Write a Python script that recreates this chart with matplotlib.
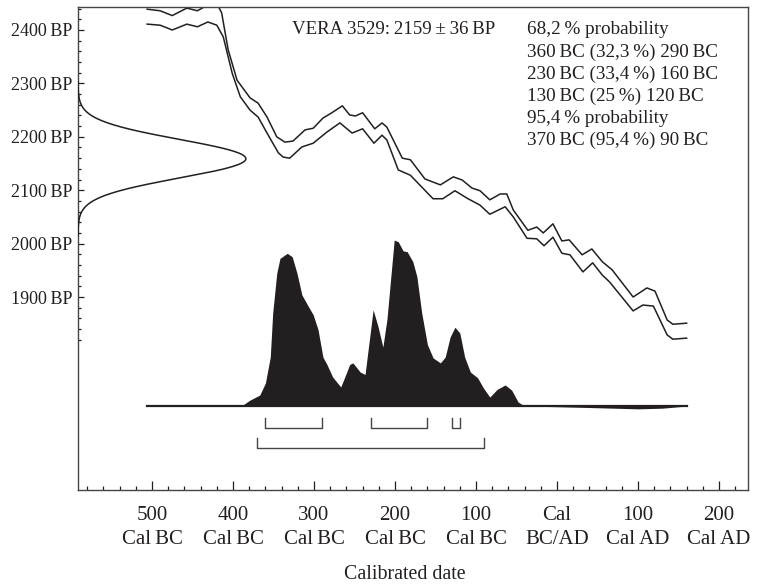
import numpy as np
import matplotlib
matplotlib.use("Agg")
import matplotlib.pyplot as plt
from matplotlib.ticker import FixedLocator

plt.rcParams['font.family'] = ['Liberation Serif', 'DejaVu Serif']

TS = "\u2009"  # thin space
INK = "#231f20"

# radiocarbon date
lab_code = "VERA 3529"
c14_age = 2159
c14_err = 36

# calibration curve, upper and lower 1-sigma envelopes (year AD negative = BC, BP)
upper_years = [-506, -490, -475, -457, -444, -432, -419, -414, -406, -395, -379, -369,
               -358, -346, -336, -326, -311, -301, -289, -278, -265, -256, -249, -240,
               -225, -216, -210, -191, -181, -163, -144, -128, -117, -105, -95, -83,
               -70, -62, -54, -36, -25, -17, -5, 6, 15, 31, 43, 56, 68, 94, 111, 121,
               136, 143, 160]
upper_bp = [2439, 2436, 2427, 2441, 2436, 2446, 2447, 2432, 2363, 2306, 2273, 2263,
            2237, 2200, 2190, 2192, 2213, 2216, 2235, 2245, 2258, 2241, 2239, 2245,
            2215, 2226, 2218, 2160, 2157, 2121, 2110, 2125, 2119, 2104, 2099, 2082,
            2093, 2093, 2063, 2025, 2031, 2020, 2037, 2005, 2007, 1979, 1990, 1966,
            1951, 1900, 1917, 1911, 1857, 1849, 1851]
lower_years = [-506, -490, -475, -457, -444, -431, -420, -412, -401, -391, -379, -369,
               -358, -344, -338, -330, -315, -301, -284, -268, -253, -240, -226, -216,
               -210, -196, -181, -153, -141, -126, -111, -95, -83, -64, -54, -37, -25,
               -16, -5, 6, 16, 32, 44, 56, 65, 94, 106, 119, 136, 143, 160]
lower_bp = [2411, 2409, 2400, 2411, 2406, 2415, 2409, 2387, 2319, 2275, 2250, 2237,
            2207, 2170, 2162, 2160, 2181, 2188, 2209, 2226, 2207, 2215, 2188, 2203,
            2194, 2138, 2128, 2084, 2084, 2099, 2085, 2072, 2055, 2069, 2050, 2010,
            2009, 1996, 2012, 1982, 1979, 1947, 1964, 1941, 1928, 1874, 1885, 1883,
            1829, 1821, 1823]

# calibrated probability distribution (relative)
prob_years = [-404, -388, -379, -367, -360, -354, -351, -346, -342, -333, -327, -321,
              -315, -307, -301, -295, -289, -284, -277, -267, -262, -256, -252, -243,
              -237, -227, -221, -215, -210, -201, -196, -190, -185, -178, -173, -167,
              -160, -153, -144, -138, -132, -126, -120, -114, -107, -98, -91, -83,
              -74, -64, -56, -48, -42, -36]
prob_vals = [0.0, 0.006, 0.036, 0.066, 0.139, 0.295, 0.56, 0.80, 0.89, 0.92, 0.90, 0.80,
             0.67, 0.60, 0.55, 0.46, 0.295, 0.25, 0.175, 0.115, 0.175, 0.25, 0.26, 0.205,
             0.19, 0.58, 0.48, 0.355, 0.52, 1.0, 0.99, 0.935, 0.93, 0.87, 0.78, 0.56,
             0.37, 0.29, 0.26, 0.295, 0.415, 0.475, 0.44, 0.295, 0.205, 0.17, 0.11, 0.054,
             0.10, 0.127, 0.096, 0.024, 0.006, 0.0]
# faint tail drawn under the baseline
tail_years = [-40, 0, 40, 100, 130, 160]
tail_vals = [0.0, -0.004, -0.009, -0.017, -0.013, 0.0]

# calibrated ranges
ranges_68 = [(-360, -290), (-230, -160), (-130, -120)]
ranges_95 = [(-370, -90)]

info_lines = [
    f"68,2{TS}% probability",
    f"360{TS}BC (32,3{TS}%) 290{TS}BC",
    f"230{TS}BC (33,4{TS}%) 160{TS}BC",
    f"130{TS}BC (25{TS}%) 120{TS}BC",
    f"95,4{TS}% probability",
    f"370{TS}BC (95,4{TS}%) 90{TS}BC",
]

x_major = [-500, -400, -300, -200, -100, 0, 100, 200]
x_labels = [f"500\nCal{TS}BC", f"400\nCal{TS}BC", f"300\nCal{TS}BC", f"200\nCal{TS}BC",
            f"100\nCal{TS}BC", "Cal\nBC/AD", f"100\nCal{TS}AD", f"200\nCal{TS}AD"]
y_major = [1900, 2000, 2100, 2200, 2300, 2400]

fig = plt.figure(figsize=(7.6, 5.86), dpi=100)
ax = fig.add_axes([0.1026, 0.1638, 0.8816, 0.8242])
ax.set_xlim(-591.4, 235.8)
ax.set_ylim(1538.6, 2443)

# curve envelopes
ax.plot(upper_years, upper_bp, color=INK, lw=1.1)
ax.plot(lower_years, lower_bp, color=INK, lw=1.1)

# axes, ticks
ax.xaxis.set_major_locator(FixedLocator(x_major))
ax.xaxis.set_minor_locator(FixedLocator([v for v in range(-580, 221, 20) if v % 100]))
ax.set_xticklabels(x_labels)
ax.yaxis.set_major_locator(FixedLocator(y_major))
ax.yaxis.set_minor_locator(FixedLocator([v for v in range(1820, 2441, 20) if v % 100]))
ax.set_yticklabels([f"{v}{TS}BP" for v in y_major])
ax.tick_params(axis='x', which='major', direction='in', length=6.5, width=0.9,
               labelsize=15, pad=11.5, color=INK, labelcolor=INK)
ax.tick_params(axis='x', which='minor', direction='in', length=3, width=0.9, color=INK)
ax.tick_params(axis='y', which='major', direction='in', length=4.5, width=0.9,
               labelsize=13, pad=4, color=INK, labelcolor=INK)
ax.tick_params(axis='y', which='minor', direction='in', length=2.2, width=0.9, color=INK)
for lab in ax.get_xticklabels():
    lab.set_linespacing(1.36)
for s in ax.spines.values():
    s.set_color("#444444")
    s.set_linewidth(1.0)
ax.set_xlabel("Calibrated date", fontsize=14.3, color=INK, labelpad=9)
ax.xaxis.set_label_coords(0.488, -0.155)

# measured radiocarbon date as gaussian on the BP axis
axg = ax.twiny()
axg.set_xlim(0, 3.99)
bp = np.linspace(c14_age - 4 * c14_err, c14_age + 4 * c14_err, 300)
axg.plot(np.exp(-0.5 * ((bp - c14_age) / c14_err) ** 2), bp, color=INK, lw=1.1)
axg.axis('off')

# calibrated probability
axp = ax.twinx()
axp.set_ylim(-0.506, 2.404)
axp.fill_between(prob_years, 0, prob_vals, color=INK, lw=0)
axp.fill_between(tail_years, 0, tail_vals, color=INK, lw=0)
axp.plot([upper_years[0], upper_years[-1]], [0, 0], color=INK, lw=1.6)
axp.axis('off')

# range brackets
tr = ax.get_xaxis_transform()
for ranges, level in ((ranges_68, 0.128), (ranges_95, 0.087)):
    for a, b in ranges:
        ax.plot([a, a, b, b], [level + 0.021, level, level, level + 0.021],
                color="#444444", lw=1.0, transform=tr)

# annotations
ax.text(0.319, 0.953, f"{lab_code}:{TS}{c14_age}{TS}±{TS}{c14_err}{TS}BP",
        transform=ax.transAxes, fontsize=13.6, color=INK, va='center', ha='left')
for i, line in enumerate(info_lines):
    ax.text(0.670, 0.953 - i * 0.046, line, transform=ax.transAxes, fontsize=13.8,
            color=INK, va='center', ha='left')

fig.savefig("out.png", dpi=100)
